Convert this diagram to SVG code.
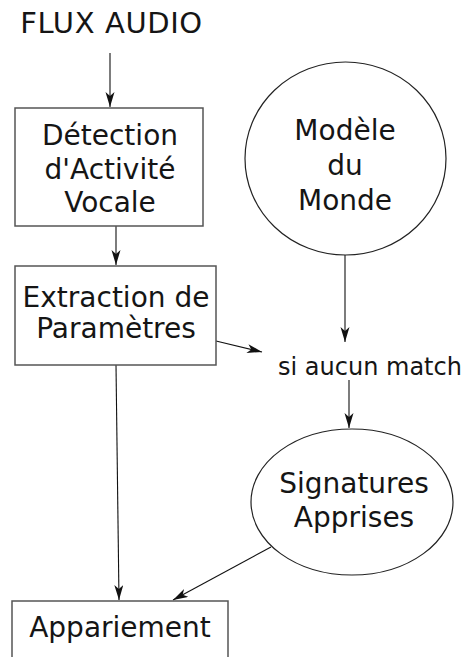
<svg xmlns="http://www.w3.org/2000/svg" width="464" height="657" viewBox="0 0 464 657">
<style>
text{font-family:"DejaVu Sans",sans-serif;fill:#151515;text-anchor:middle}
.n{font-size:28px}
.t{font-size:29px;letter-spacing:0.6px}
.lbl{font-size:24px}
.box{fill:#fff;stroke:#555;stroke-width:1.5}
.ell{fill:#fff;stroke:#222;stroke-width:1.2}
.edge{fill:none;stroke:#111;stroke-width:1.1;marker-end:url(#ah)}
</style>
<defs>
<marker id="ah" markerUnits="userSpaceOnUse" markerWidth="16" markerHeight="10" refX="15" refY="4.5" orient="auto">
<path d="M0,0 L15,4.5 L0,9 L4,4.5 z" fill="#111"/>
</marker>
</defs>
<rect width="464" height="657" fill="#fff"/>
<g id="connectors">
<line class="edge" x1="110" y1="53" x2="110" y2="107"/>
<line class="edge" x1="116" y1="226" x2="116" y2="265"/>
<line class="edge" x1="345" y1="255" x2="345" y2="342"/>
<line class="edge" x1="216" y1="341" x2="262" y2="352"/>
<line class="edge" x1="349" y1="380" x2="349" y2="428"/>
<line class="edge" x1="116" y1="365" x2="119" y2="600"/>
<line class="edge" x1="271" y1="547" x2="173" y2="600"/>
</g>
<g id="flux"><text class="t" x="111.5" y="33">FLUX AUDIO</text></g>
<g id="vad">
<rect class="box" x="15" y="108" width="188" height="118"/>
<text class="n" x="110" y="145">Détection</text>
<text class="n" x="110" y="179">d'Activité</text>
<text class="n" x="110" y="212">Vocale</text>
</g>
<g id="extraction">
<rect class="box" x="15" y="266" width="201" height="99"/>
<text class="n" x="116" y="307">Extraction de</text>
<text class="n" x="116" y="338">Paramètres</text>
</g>
<g id="monde">
<ellipse class="ell" cx="345.5" cy="158.5" rx="100.5" ry="96.5"/>
<text class="n" x="345" y="140">Modèle</text>
<text class="n" x="345" y="175">du</text>
<text class="n" x="345" y="210">Monde</text>
</g>
<g id="nomatch"><text class="lbl" x="370" y="375">si aucun match</text></g>
<g id="signatures">
<ellipse class="ell" cx="352" cy="502" rx="101" ry="73"/>
<text class="n" x="354" y="493">Signatures</text>
<text class="n" x="354" y="527">Apprises</text>
</g>
<g id="appariement">
<rect class="box" x="12" y="601" width="216" height="70"/>
<text class="n" x="120" y="637">Appariement</text>
</g>
</svg>
